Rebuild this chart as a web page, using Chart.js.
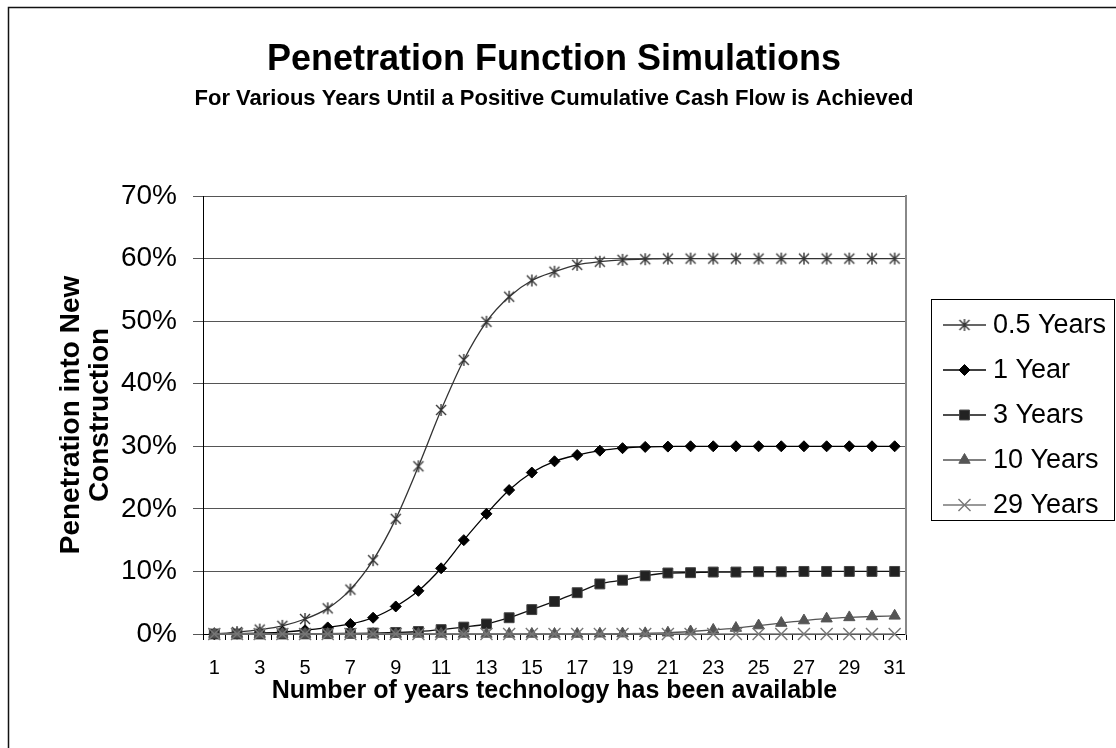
<!doctype html>
<html lang="en">
  <head>
    <meta charset="utf-8">
    <title>Penetration Function Simulations</title>
    <style>
      * { margin: 0; padding: 0; }
      body { background: #fff; }
    </style>
  </head>
  <body>
    <canvas id="penChart" width="1116" height="748"></canvas>

    <script src="https://cdn.jsdelivr.net/npm/chart.js"></script>
    <script>
    // data (percent)
    const years = ['1','2','3','4','5','6','7','8','9','10','11','12','13','14','15','16',
                   '17','18','19','20','21','22','23','24','25','26','27','28','29','30','31'];
    const halfYear = [0, 0.3, 0.7, 1.3, 2.4, 4.1, 7.1, 11.8, 18.4, 26.8, 35.8, 43.8, 49.9, 53.9, 56.5, 57.9,
                      59.0, 59.5, 59.8, 59.9, 60, 60, 60, 60, 60, 60, 60, 60, 60, 60, 60];
    const oneYear = [0, 0.05, 0.15, 0.3, 0.6, 1.05, 1.6, 2.6, 4.4, 6.9, 10.5, 15.0, 19.2, 23.0, 25.8, 27.6,
                     28.6, 29.3, 29.7, 29.9, 29.95, 30, 30, 30, 30, 30, 30, 30, 30, 30, 30];
    const threeYears = [0, 0, 0, 0, 0.02, 0.05, 0.1, 0.15, 0.25, 0.4, 0.7, 1.1, 1.6, 2.6, 3.9, 5.2,
                        6.6, 8.0, 8.6, 9.3, 9.75, 9.8, 9.9, 9.9, 9.95, 9.95, 10, 10, 10, 10, 10];
    const tenYears = [0, 0, 0, 0, 0, 0, 0, 0, 0, 0, 0, 0, 0, 0, 0, 0,
                      0, 0.03, 0.06, 0.1, 0.2, 0.4, 0.65, 0.95, 1.35, 1.75, 2.15, 2.45, 2.65, 2.8, 2.9];
    const twentyNineYears = [0, 0, 0, 0, 0, 0, 0, 0, 0, 0, 0, 0, 0, 0, 0, 0,
                             0, 0, 0, 0, 0, 0, 0, 0, 0, 0, 0, 0, 0, 0, 0];
    const yTicks = [0, 10, 20, 30, 40, 50, 60, 70];

    const FONT = '"Liberation Sans", Arial, sans-serif';

    // excel style asterisk marker (vertical bar + X)
    function makeAsterisk(color) {
      const c = document.createElement('canvas');
      c.width = 14; c.height = 14;
      const g = c.getContext('2d');
      g.strokeStyle = color;
      g.lineWidth = 1.4;
      g.beginPath();
      g.moveTo(7, 1); g.lineTo(7, 13);
      g.moveTo(2, 2); g.lineTo(12, 12);
      g.moveTo(12, 2); g.lineTo(2, 12);
      g.stroke();
      return c;
    }
    const asterisk = makeAsterisk('#333');

    const frame = {
      id: 'frame',
      beforeDraw(chart) {
        const ctx = chart.ctx;
        ctx.save();
        ctx.fillStyle = '#fff';
        ctx.fillRect(0, 0, chart.width, chart.height);
        ctx.restore();
      },
      afterDraw(chart) {
        const ctx = chart.ctx;
        ctx.save();
        ctx.strokeStyle = '#111';
        ctx.lineWidth = 1.5;
        ctx.strokeRect(8.5, 7.5, 1300, 900);
        ctx.restore();
      }
    };

    // legend box on the right, line + marker like excel
    const sideLegend = {
      id: 'sideLegend',
      afterDraw(chart) {
        const ctx = chart.ctx;
        const area = chart.chartArea;
        const left = area.right + 25;
        const top = 299;
        ctx.save();
        ctx.strokeStyle = '#000';
        ctx.lineWidth = 1;
        ctx.strokeRect(left + 0.5, top + 0.5, 183, 221);
        chart.data.datasets.forEach((ds, i) => {
          const y = top + 26 + i * 45;
          ctx.strokeStyle = ds.borderColor;
          ctx.lineWidth = ds.borderWidth;
          ctx.beginPath();
          ctx.moveTo(left + 12, y);
          ctx.lineTo(left + 55, y);
          ctx.stroke();
          const cx = left + 33.5;
          if (ds.pointStyle instanceof HTMLCanvasElement) {
            ctx.drawImage(ds.pointStyle, cx - ds.pointStyle.width / 2, y - ds.pointStyle.height / 2);
          } else {
            ctx.fillStyle = ds.pointBackgroundColor;
            ctx.strokeStyle = ds.pointBorderColor;
            ctx.lineWidth = ds.pointBorderWidth;
            Chart.helpers.drawPoint(ctx, {pointStyle: ds.pointStyle, radius: ds.pointRadius, borderWidth: ds.pointBorderWidth, rotation: 0}, cx, y);
          }
          ctx.fillStyle = '#000';
          ctx.font = '27px ' + FONT;
          ctx.textBaseline = 'middle';
          ctx.textAlign = 'left';
          ctx.fillText(ds.label, left + 62, y + 1);
        });
        ctx.restore();
      }
    };

    const data = {
      labels: years,
      datasets: [{
        label: '0.5 Years',
        data: halfYear,
        borderColor: '#333',
        borderWidth: 1.3,
        pointStyle: asterisk,
        pointRadius: 7,
        order: 4
      }, {
        label: '1 Year',
        data: oneYear,
        borderColor: '#000',
        borderWidth: 1.3,
        pointStyle: 'rectRot',
        pointRadius: 5.5,
        pointBackgroundColor: '#000',
        pointBorderColor: '#000',
        pointBorderWidth: 1,
        order: 3
      }, {
        label: '3 Years',
        data: threeYears,
        borderColor: '#111',
        borderWidth: 1.3,
        pointStyle: 'rect',
        pointRadius: 7,
        pointBackgroundColor: '#222',
        pointBorderColor: '#444',
        pointBorderWidth: 1,
        order: 2
      }, {
        label: '10 Years',
        data: tenYears,
        borderColor: '#555',
        borderWidth: 1.3,
        pointStyle: 'triangle',
        pointRadius: 6.5,
        pointBackgroundColor: '#555',
        pointBorderColor: '#555',
        pointBorderWidth: 1,
        order: 1
      }, {
        label: '29 Years',
        data: twentyNineYears,
        borderColor: '#777',
        borderWidth: 1.3,
        pointStyle: 'crossRot',
        pointRadius: 8.5,
        pointBackgroundColor: '#777',
        pointBorderColor: '#777',
        pointBorderWidth: 1.4,
        order: 0
      }]
    };
    data.datasets.forEach(ds => {
      ds.fill = false;
      ds.cubicInterpolationMode = 'monotone';
      ds.clip = false;
    });

    const config = {
      type: 'line',
      data,
      options: {
        responsive: false,
        animation: false,
        layout: { padding: { top: 0, left: 0, right: 8, bottom: 0 } },
        plugins: {
          legend: { display: false },
          tooltip: { enabled: false },
          title: {
            display: true,
            text: 'Penetration Function Simulations',
            color: '#000',
            font: { family: FONT, size: 36, weight: 'bold', lineHeight: '40px' },
            padding: { top: 40, bottom: 0 }
          },
          subtitle: {
            display: true,
            text: 'For Various Years Until a Positive Cumulative Cash Flow is Achieved',
            color: '#000',
            font: { family: FONT, size: 22, weight: 'bold', lineHeight: '24px' },
            padding: { top: 7, bottom: 85 }
          }
        },
        scales: {
          x: {
            type: 'category',
            offset: true,
            grid: { offset: true, drawOnChartArea: false, drawTicks: true, tickLength: 6, color: '#000' },
            border: { color: '#000', width: 1 },
            ticks: {
              autoSkip: false,
              maxRotation: 0,
              color: '#000',
              padding: 16,
              font: { family: FONT, size: 20 },
              callback: function (val, idx) { return idx % 2 === 0 ? this.getLabelForValue(val) : ''; }
            },
            title: {
              display: true,
              text: 'Number of years technology has been available',
              color: '#000',
              font: { family: FONT, size: 25, weight: 'bold', lineHeight: '28px' },
              padding: { top: 0, bottom: 43 }
            },
            afterFit(scale) { scale.height = 114; }
          },
          y: {
            min: 0,
            max: 70,
            afterBuildTicks(scale) { scale.ticks = yTicks.map(v => ({ value: v })); },
            grid: { color: '#555', lineWidth: 1, tickLength: 10 },
            border: { color: '#000', width: 1 },
            ticks: {
              color: '#000',
              padding: 16,
              font: { family: FONT, size: 28 },
              callback: v => v + '%'
            },
            title: {
              display: true,
              text: ['Penetration into New', 'Construction'],
              color: '#000',
              font: { family: FONT, size: 28, weight: 'bold', lineHeight: '29px' },
              padding: { top: 57, bottom: 0 }
            },
            afterFit(scale) { scale.width = 203; }
          },
          y2: {
            position: 'right',
            grid: { drawOnChartArea: false, drawTicks: false },
            border: { color: '#888', width: 2 },
            ticks: { display: false },
            afterFit(scale) { scale.width = 202; }
          }
        }
      },
      plugins: [frame, sideLegend]
    };

    const penChart = new Chart(document.getElementById('penChart'), config);
    </script>
  </body>
</html>
